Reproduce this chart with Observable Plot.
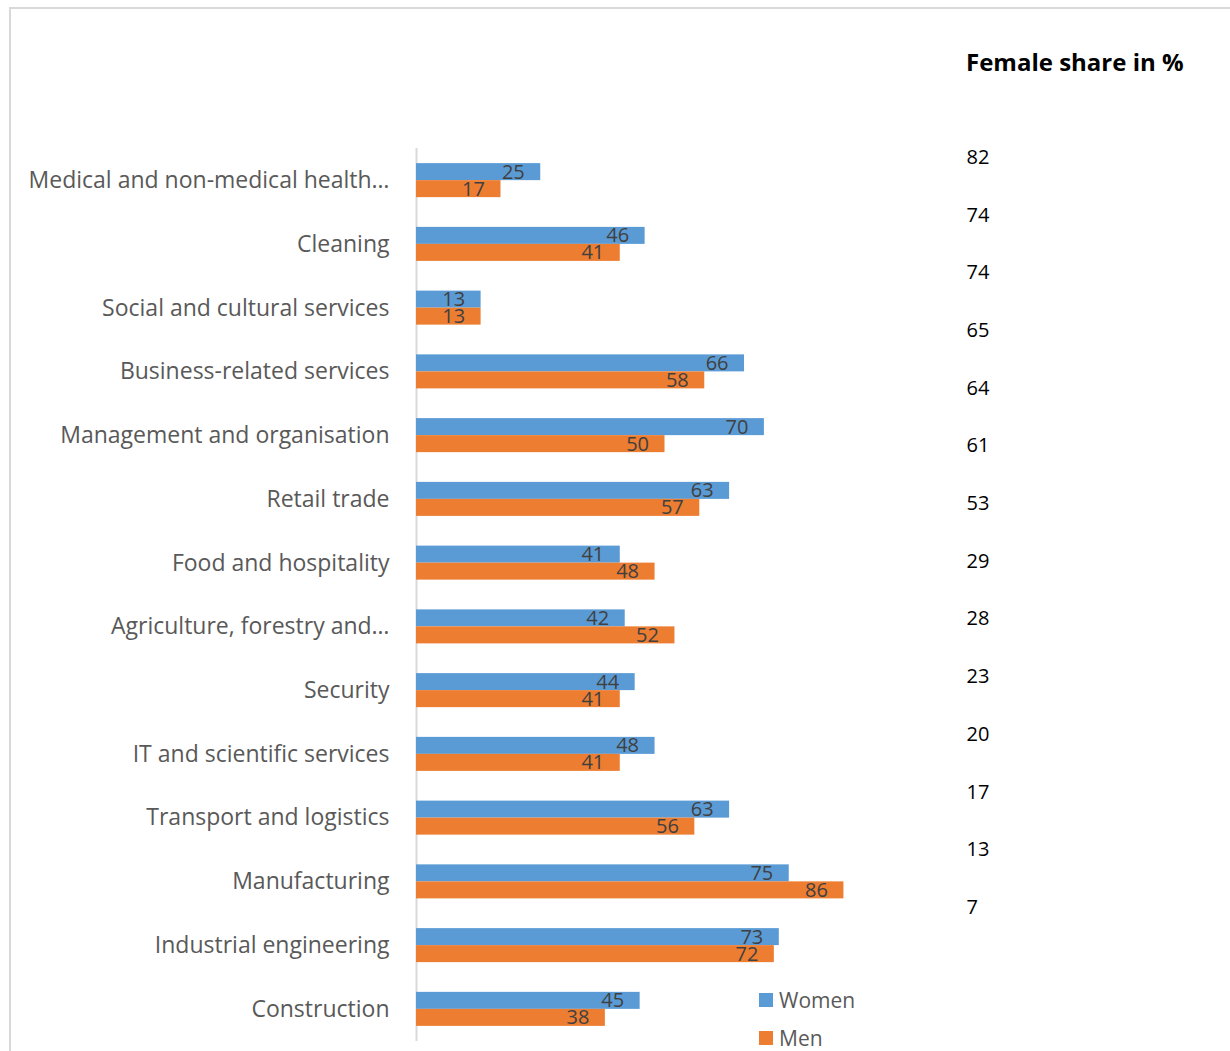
<!DOCTYPE html>
<html>
<head>
<meta charset="utf-8">
<script src="https://cdn.jsdelivr.net/npm/d3@7"></script>
<script src="https://cdn.jsdelivr.net/npm/@observablehq/plot@0.6"></script>
<style>
  html, body { margin: 0; padding: 0; background: #fff; }
  #wrap { position: relative; width: 1230px; height: 1051px; overflow: hidden; font-family: "Open Sans", sans-serif; }
  #frame { position: absolute; left: 9px; top: 7px; width: 1240px; height: 1060px; border: 2px solid #d9d9d9; box-sizing: border-box; }
  .layer { position: absolute; left: 0; top: 0; }
  #title { position: absolute; left: 966px; top: 45px; font-family: "Open Sans", sans-serif; font-weight: bold; font-size: 24px; color: #000; white-space: nowrap; }
  #legend { position: absolute; left: 759px; top: 981px; font-family: "Open Sans", sans-serif; font-size: 21px; color: #595959; }
  #legend .item { display: flex; align-items: center; height: 38px; }
  #legend .sw { width: 14px; height: 14px; margin-right: 6px; display: inline-block; }
</style>
</head>
<body>
<div id="wrap">
  <div id="frame"></div>
  <div id="chart" class="layer"></div>
  <div id="share" class="layer"></div>
  <div id="title">Female share in %</div>
  <div id="legend"></div>
</div>
<script>
const categories = [
  "Medical and non-medical health…",
  "Cleaning",
  "Social and cultural services",
  "Business-related services",
  "Management and organisation",
  "Retail trade",
  "Food and hospitality",
  "Agriculture, forestry and…",
  "Security",
  "IT and scientific services",
  "Transport and logistics",
  "Manufacturing",
  "Industrial engineering",
  "Construction"
];
const women = [25, 46, 13, 66, 70, 63, 41, 42, 44, 48, 63, 75, 73, 45];
const men   = [17, 41, 13, 58, 50, 57, 48, 52, 41, 41, 56, 86, 72, 38];
const femaleShare = [82, 74, 74, 65, 64, 61, 53, 29, 28, 23, 20, 17, 13, 7];
const seriesNames = ["Women", "Men"];
const seriesColors = ["#5b9bd5", "#ed7d31"];

const womenData = categories.map((c, i) => ({category: c, value: women[i]}));
const menData = categories.map((c, i) => ({category: c, value: men[i]}));

const half = 17;
const chart = Plot.plot({
  width: 1230,
  height: 1051,
  marginLeft: 416,
  marginRight: 317,
  marginTop: 144,
  marginBottom: 6,
  style: {fontFamily: "Open Sans, sans-serif", color: "#595959", background: "transparent"},
  x: {domain: [0, 100], axis: null},
  y: {domain: categories, paddingInner: 0.4665, paddingOuter: 0.3, round: false, axis: null},
  marks: [
    Plot.ruleX([0], {stroke: "#d9d9d9", strokeWidth: 2, insetTop: 4, insetBottom: 4}),
    Plot.barX(womenData, {x: "value", y: "category", fill: seriesColors[0], insetBottom: half}),
    Plot.barX(menData, {x: "value", y: "category", fill: seriesColors[1], insetTop: half}),
    Plot.text(womenData, {x: "value", y: "category", text: d => String(d.value), dy: -half / 2, dx: -16, textAnchor: "end", fill: "#404040", fontSize: 20}),
    Plot.text(menData, {x: "value", y: "category", text: d => String(d.value), dy: half / 2, dx: -16, textAnchor: "end", fill: "#404040", fontSize: 20}),
    Plot.axisY({anchor: "left", label: null, tickSize: 0, tickPadding: 27, fontSize: 23, fill: "#595959"})
  ]
});
document.getElementById("chart").appendChild(chart);

const shareData = femaleShare.map((v, i) => ({idx: i, value: v}));
const share = Plot.plot({
  width: 1230,
  height: 1051,
  marginLeft: 966,
  marginRight: 10,
  marginTop: 157,
  marginBottom: 144,
  style: {fontFamily: "Open Sans, sans-serif", background: "transparent"},
  x: {axis: null},
  y: {type: "point", domain: d3.range(femaleShare.length), padding: 0, round: false, axis: null},
  marks: [
    Plot.text(shareData, {y: "idx", text: d => String(d.value), frameAnchor: "left", textAnchor: "start", fill: "#000", fontSize: 20})
  ]
});
document.getElementById("share").appendChild(share);

const legend = document.getElementById("legend");
seriesNames.forEach((name, i) => {
  const item = document.createElement("div");
  item.className = "item";
  const sw = document.createElement("span");
  sw.className = "sw";
  sw.style.background = seriesColors[i];
  const t = document.createElement("span");
  t.textContent = name;
  item.appendChild(sw);
  item.appendChild(t);
  legend.appendChild(item);
});
</script>
</body>
</html>
